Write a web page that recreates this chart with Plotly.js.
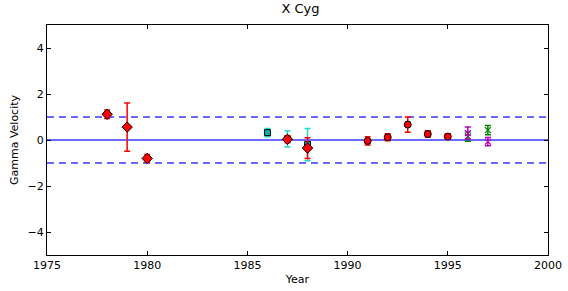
<!DOCTYPE html>
<html><head><meta charset="utf-8">
<script src="https://cdn.plot.ly/plotly-3.0.1.min.js"></script>
<style>html,body{margin:0;padding:0;background:#fff}#chart{width:568px;height:291px}</style>
</head><body><div id="chart"></div>
<script>
// Cyan squares
const sqYears = [1986, 1987, 1988];
const sqVel = [0.32, 0.05, -0.2];
const sqErr = [0.18, 0.35, 0.7];
// Red diamonds
const diaYears = [1978, 1979, 1980, 1987, 1988];
const diaVel = [1.12, 0.56, -0.8, 0.03, -0.35];
const diaErr = [0.18, 1.05, 0.17, 0.15, 0.45];
// Red circles
const circYears = [1991, 1992, 1993, 1994, 1995];
const circVel = [-0.04, 0.12, 0.67, 0.26, 0.15];
const circErr = [0.18, 0.15, 0.33, 0.14, 0.12];
// Green crosses
const grnYears = [1996, 1997];
const grnVel = [0.15, 0.43];
const grnErr = [0.2, 0.2];
// Magenta crosses
const magYears = [1996, 1997];
const magVel = [0.3, -0.07];
const magErr = [0.27, 0.18];
// Reference lines
const refX = [1975, 2000];
const zeroLine = [0, 0];
const upperLine = [1, 1];
const lowerLine = [-1, -1];

const font = {family: 'DejaVu Sans', size: 11, color: '#000'};
const eb = (arr, col) => ({type: 'data', array: arr, visible: true, color: col, thickness: 1.5, width: 3});

const traces = [
  {x: refX, y: zeroLine, mode: 'lines', line: {color: '#3a3aff', width: 1.3}, hoverinfo: 'skip'},
  {x: refX, y: upperLine, mode: 'lines', line: {color: '#3a3aff', width: 1.3, dash: '7px,5px'}, hoverinfo: 'skip'},
  {x: refX, y: lowerLine, mode: 'lines', line: {color: '#3a3aff', width: 1.3, dash: '7px,5px'}, hoverinfo: 'skip'},
  {x: sqYears, y: sqVel, mode: 'markers', error_y: eb(sqErr, '#22d8d8'),
   marker: {symbol: 'square', size: 6, color: '#00b0b0', line: {color: '#000', width: 1}}},
  {x: diaYears, y: diaVel, mode: 'markers', error_y: eb(diaErr, '#ff0000'),
   marker: {symbol: 'diamond', size: 8, color: '#ff0000', line: {color: '#000', width: 1}}},
  {x: circYears, y: circVel, mode: 'markers', error_y: eb(circErr, '#ff0000'),
   marker: {symbol: 'circle', size: 7, color: '#ff0000', line: {color: '#000', width: 1}}},
  {x: grnYears, y: grnVel, mode: 'markers', error_y: eb(grnErr, '#008000'),
   marker: {symbol: 'x-thin', size: 6, color: '#008000', line: {color: '#008000', width: 1.3}}},
  {x: magYears, y: magVel, mode: 'markers', error_y: eb(magErr, '#bf00bf'),
   marker: {symbol: 'x-thin', size: 6, color: '#bf00bf', line: {color: '#bf00bf', width: 1.3}}}
];

const layout = {
  width: 568, height: 291,
  margin: {l: 47, r: 20, t: 25, b: 36},
  paper_bgcolor: '#fff', plot_bgcolor: '#fff',
  showlegend: false,
  font: font,
  title: {text: 'X Cyg', font: {family: 'DejaVu Sans', size: 13, color: '#000'}, x: 0.529, xanchor: 'center', y: 0.985, yanchor: 'top'},
  xaxis: {range: [1975, 2000], tickvals: [1975, 1980, 1985, 1990, 1995, 2000], ticktext: ['1975','1980','1985','1990','1995','2000'],
    ticks: 'inside', ticklen: 4, tickcolor: '#000', showline: true, linecolor: '#000', linewidth: 1, mirror: 'ticks',
    showgrid: false, zeroline: false, tickfont: font,
    title: {text: 'Year', font: font, standoff: 4}},
  yaxis: {range: [-5, 5], tickvals: [-4, -2, 0, 2, 4], ticktext: ['\u22124','\u22122','0','2','4'],
    ticks: 'inside', ticklen: 4, tickcolor: '#000', showline: true, linecolor: '#000', linewidth: 1, mirror: 'ticks',
    showgrid: false, zeroline: false, tickfont: font,
    title: {text: 'Gamma Velocity', font: font, standoff: 6}}
};

Plotly.newPlot('chart', traces, layout, {staticPlot: true, displayModeBar: false});
</script></body></html>
